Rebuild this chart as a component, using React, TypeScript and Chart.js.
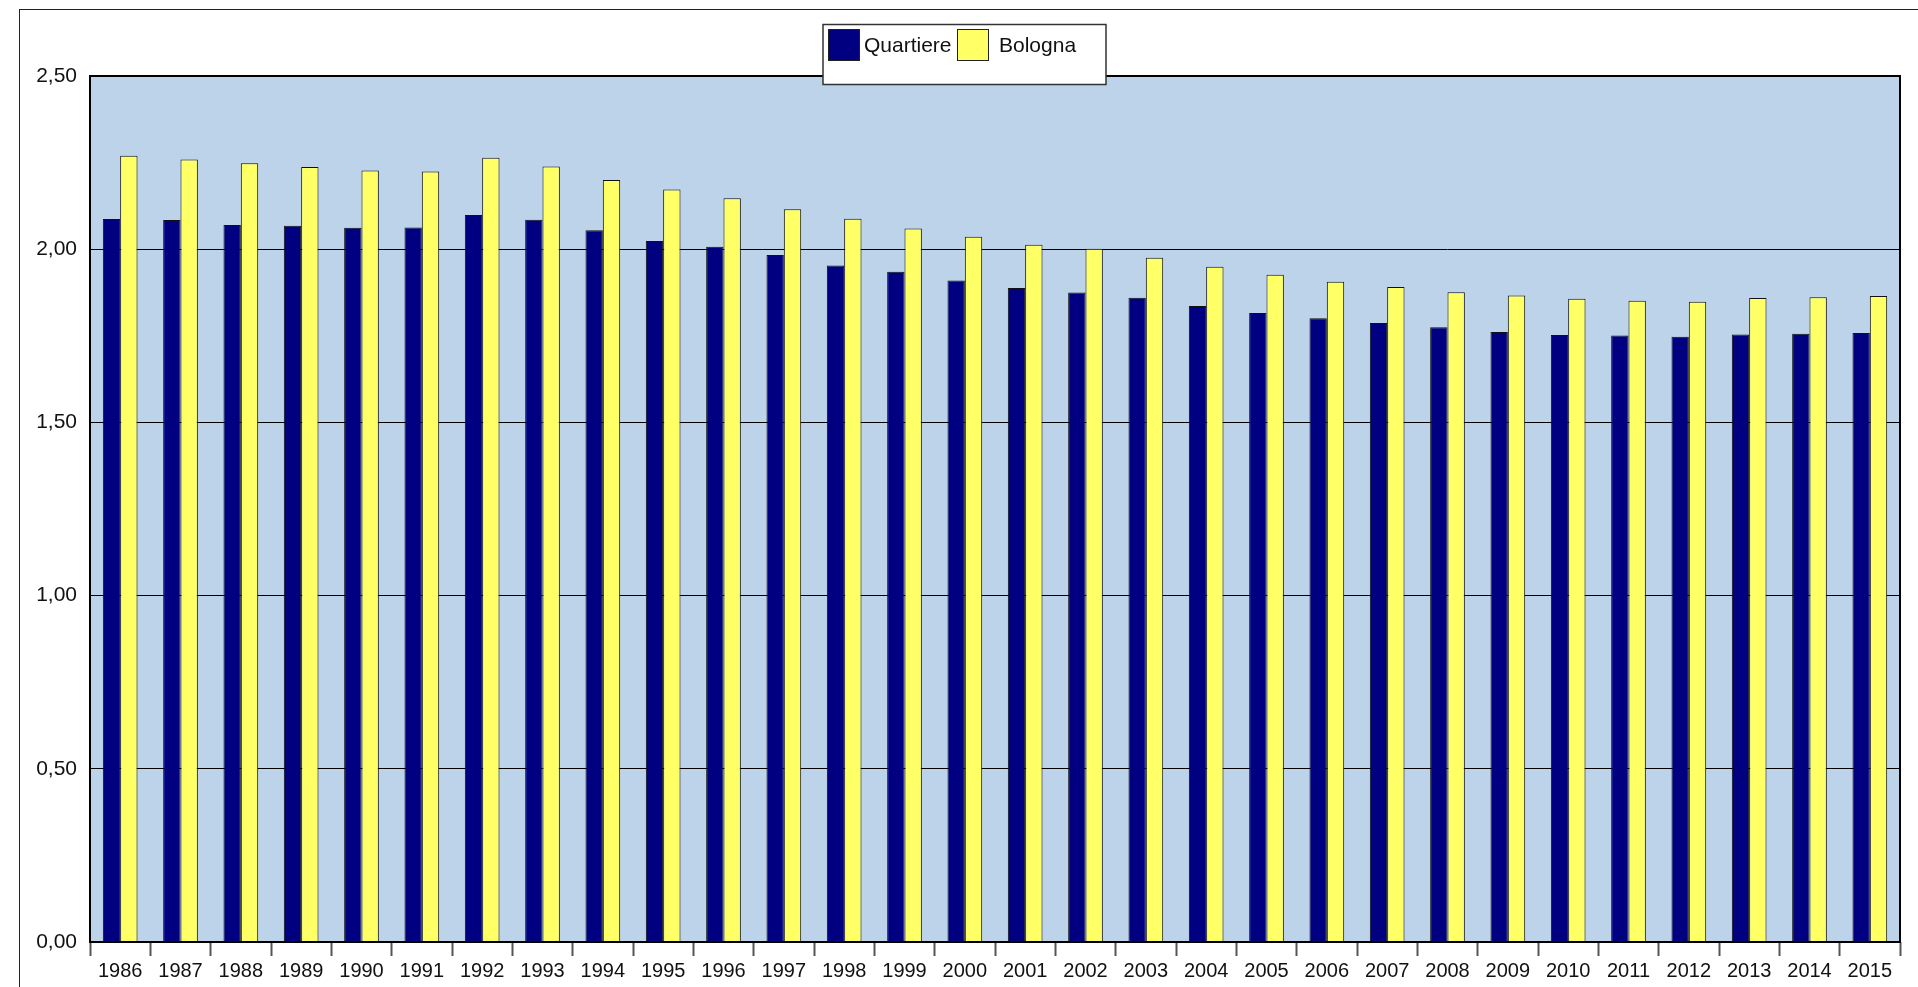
import React, { useEffect, useRef } from "react";
import { Chart, registerables } from "chart.js";

Chart.register(...registerables);

const years = [
  "1986", "1987", "1988", "1989", "1990", "1991", "1992", "1993", "1994", "1995",
  "1996", "1997", "1998", "1999", "2000", "2001", "2002", "2003", "2004", "2005",
  "2006", "2007", "2008", "2009", "2010", "2011", "2012", "2013", "2014", "2015",
];

const quartiere = [
  2.087, 2.084, 2.07, 2.068, 2.062, 2.063, 2.099, 2.085, 2.055, 2.024,
  2.007, 1.983, 1.953, 1.935, 1.91, 1.888, 1.875, 1.86, 1.836, 1.816,
  1.801, 1.787, 1.775, 1.761, 1.752, 1.751, 1.747, 1.754, 1.756, 1.758,
];

const bologna = [
  2.27, 2.259, 2.248, 2.237, 2.227, 2.224, 2.264, 2.239, 2.2, 2.172,
  2.147, 2.115, 2.088, 2.06, 2.036, 2.013, 2.001, 1.975, 1.949, 1.926,
  1.906, 1.891, 1.876, 1.866, 1.857, 1.851, 1.848, 1.859, 1.861, 1.865,
];

const seriesLabels = ["Quartiere", "Bologna"];
const seriesColors = ["#000080", "#FFFF66"];

const FONT = "'Liberation Sans', Arial, sans-serif";

const framePlugin = {
  id: "frame",
  beforeDraw(chart: any) {
    const { ctx, chartArea } = chart;
    ctx.save();
    ctx.fillStyle = "#ffffff";
    ctx.fillRect(0, 0, chart.width, chart.height);
    ctx.strokeStyle = "#222222";
    ctx.lineWidth = 1;
    ctx.strokeRect(19.5, 9.5, chart.width + 20, chart.height + 20);
    ctx.fillStyle = "rgb(189,211,233)";
    ctx.fillRect(chartArea.left, chartArea.top, chartArea.right - chartArea.left, chartArea.bottom - chartArea.top);
    ctx.restore();
  },
  afterDatasetsDraw(chart: any) {
    const { ctx, chartArea } = chart;
    ctx.save();
    ctx.strokeStyle = "#000000";
    ctx.lineWidth = 2;
    ctx.strokeRect(chartArea.left, chartArea.top, chartArea.right - chartArea.left, chartArea.bottom - chartArea.top);
    ctx.restore();
  },
  afterDraw(chart: any) {
    const { ctx } = chart;
    const bx = 823;
    const by = 24.5;
    const bw = 283;
    const bh = 60;
    ctx.save();
    ctx.fillStyle = "#ffffff";
    ctx.fillRect(bx, by, bw, bh);
    ctx.strokeStyle = "#333333";
    ctx.lineWidth = 1.5;
    ctx.strokeRect(bx, by, bw, bh);
    const items = chart.data.datasets.map((d: any) => ({ label: d.label, color: d.backgroundColor }));
    const xs = [828.5, 957.5];
    const tx = [864, 999];
    items.forEach((it: any, i: number) => {
      ctx.fillStyle = it.color;
      ctx.fillRect(xs[i], 29.5, 31, 31);
      ctx.strokeStyle = "#222222";
      ctx.lineWidth = 1;
      ctx.strokeRect(xs[i], 29.5, 31, 31);
      ctx.fillStyle = "#111111";
      ctx.font = `21px ${FONT}`;
      ctx.textBaseline = "middle";
      ctx.textAlign = "left";
      ctx.fillText(it.label, tx[i], 46);
    });
    ctx.restore();
  },
};

export default function App() {
  const ref = useRef<HTMLCanvasElement | null>(null);

  useEffect(() => {
    if (!ref.current) return;
    const chart = new Chart(ref.current, {
      type: "bar",
      data: {
        labels: years,
        datasets: [
          {
            label: seriesLabels[0],
            data: quartiere,
            backgroundColor: seriesColors[0],
            borderColor: "#111111",
            borderWidth: 1,
            categoryPercentage: 0.575,
            barPercentage: 1.0,
          },
          {
            label: seriesLabels[1],
            data: bologna,
            backgroundColor: seriesColors[1],
            borderColor: "#111111",
            borderWidth: 1,
            categoryPercentage: 0.575,
            barPercentage: 1.0,
          },
        ],
      },
      options: {
        responsive: false,
        animation: false,
        devicePixelRatio: 1,
        layout: { padding: { left: 0, right: 18, top: 76, bottom: 0 } },
        plugins: {
          legend: { display: false },
          tooltip: { enabled: false },
          title: { display: false },
        },
        scales: {
          x: {
            afterFit: (scale: any) => {
              scale.height = 45;
            },
            grid: {
              offset: true,
              drawOnChartArea: false,
              drawTicks: true,
              tickLength: 14,
              tickColor: "#555555",
              tickWidth: 2,
            },
            border: { display: false },
            ticks: {
              font: { family: FONT, size: 20 },
              color: "#111111",
              padding: 3,
              maxRotation: 0,
              autoSkip: false,
            },
          },
          y: {
            min: 0,
            max: 2.5,
            afterFit: (scale: any) => {
              scale.width = 90;
            },
            grid: {
              color: "#000000",
              lineWidth: 1,
              drawTicks: false,
            },
            border: { display: false },
            ticks: {
              stepSize: 0.5,
              padding: 13,
              font: { family: FONT, size: 21 },
              color: "#111111",
              callback: (v: any) => Number(v).toFixed(2).replace(".", ","),
            },
          },
        },
      },
      plugins: [framePlugin],
    });
    return () => chart.destroy();
  }, []);

  return (
    <div style={{ position: "fixed", left: 0, top: 0, width: 1918, height: 987 }}>
      <canvas ref={ref} width={1918} height={987} style={{ width: 1918, height: 987, display: "block" }} />
    </div>
  );
}
